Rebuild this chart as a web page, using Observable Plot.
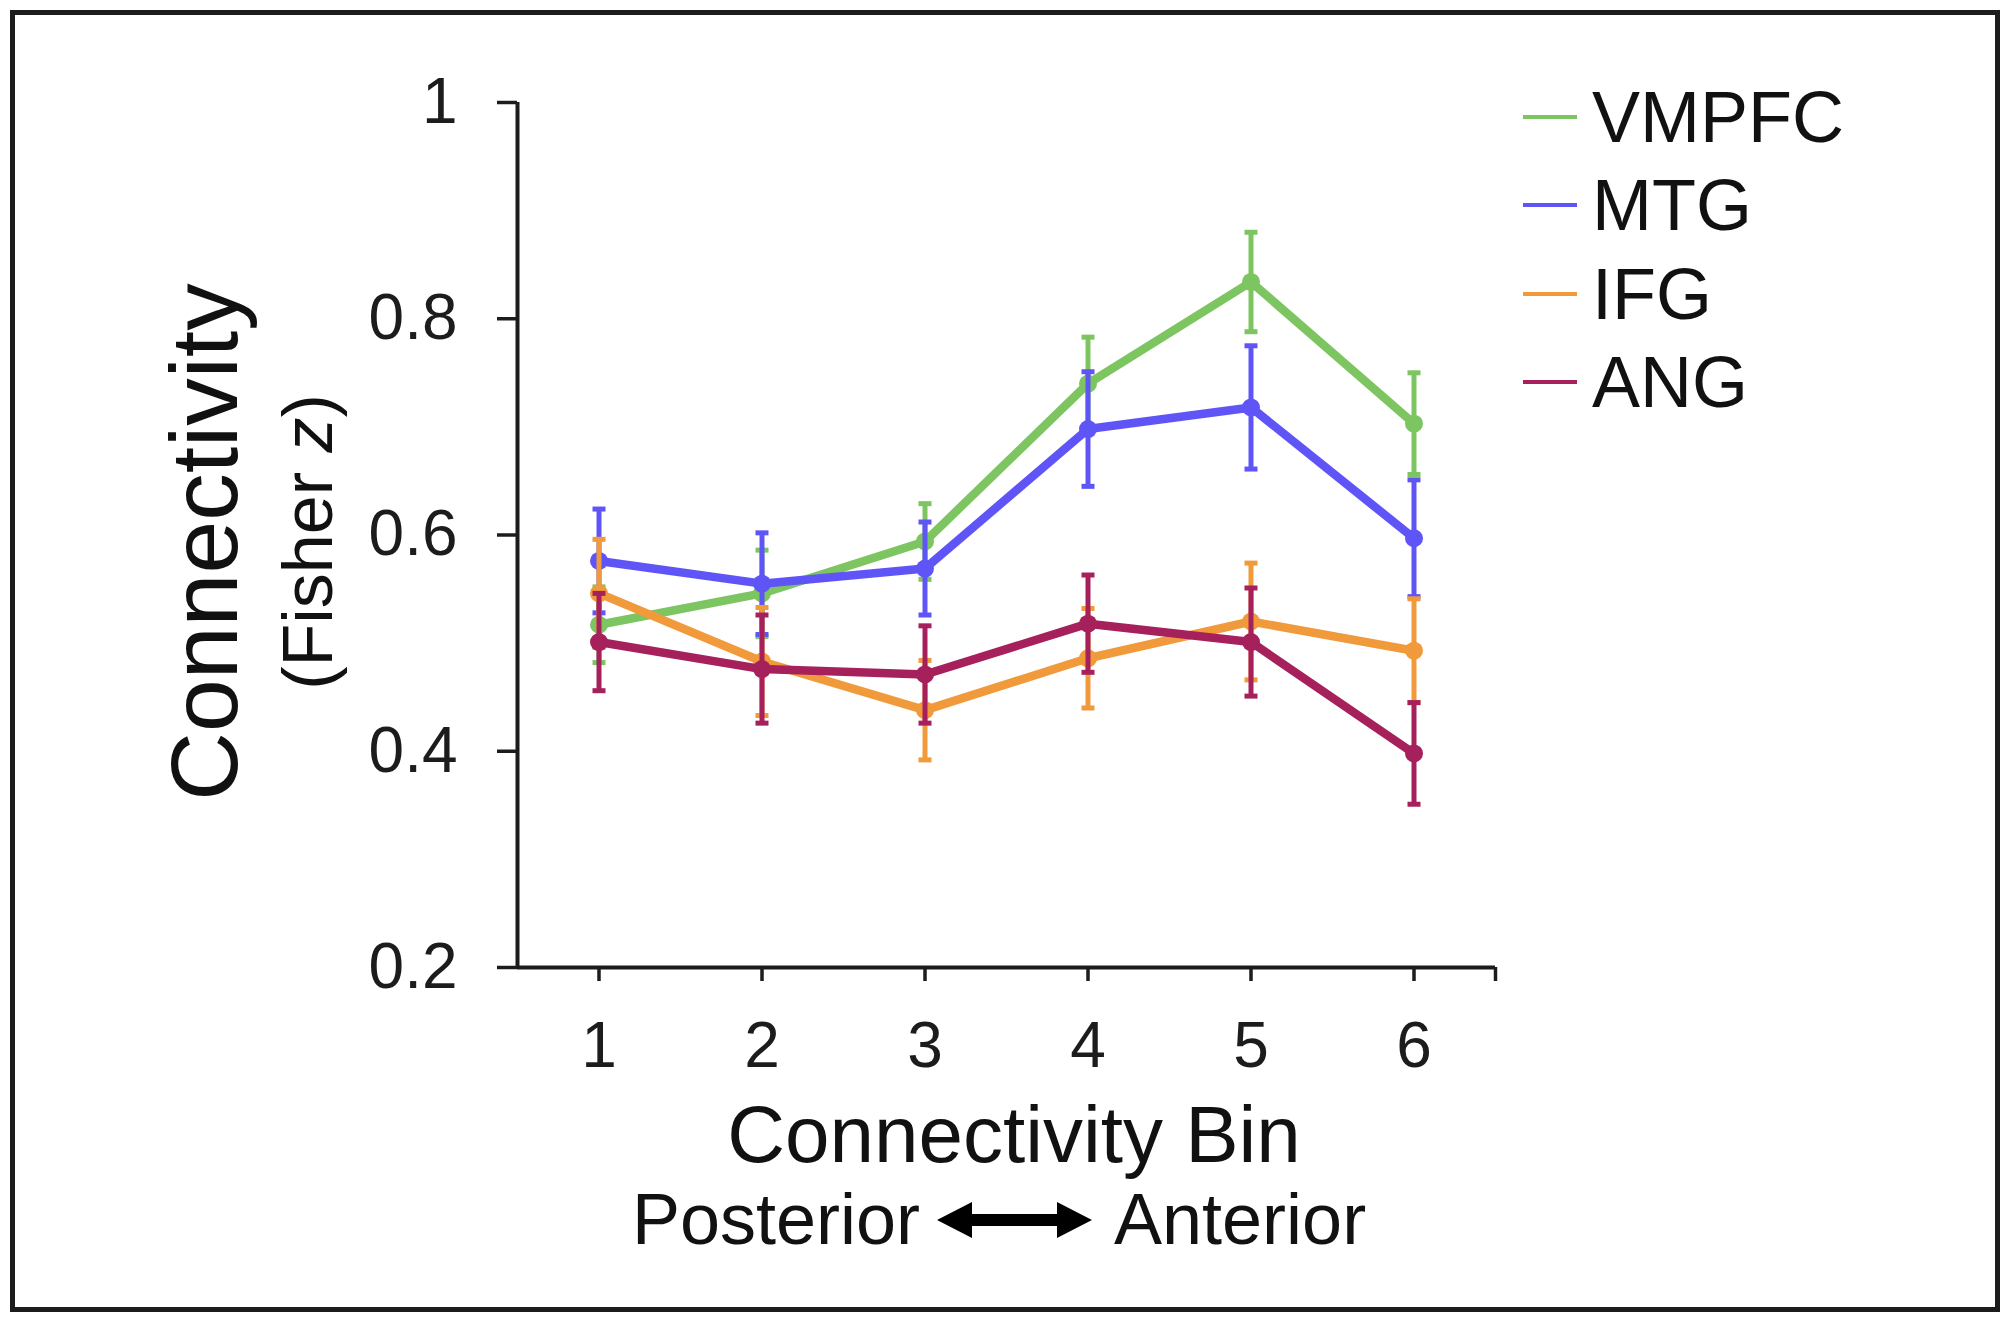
<!DOCTYPE html>
<html>
<head>
<meta charset="utf-8">
<script src="https://cdn.jsdelivr.net/npm/d3@7"></script>
<script src="https://cdn.jsdelivr.net/npm/@observablehq/plot@0.6"></script>
<style>
  html, body { margin: 0; padding: 0; background: #fff; }
  #wrap { position: relative; width: 2010px; height: 1323px; overflow: hidden; background: #fff;
          font-family: "Liberation Sans", Arial, sans-serif; color: #111; }
  #frame { position: absolute; left: 10px; top: 10px; width: 1990px; height: 1302px;
           box-sizing: border-box; border: 5px solid #1c1c1c; pointer-events: none; }
  #chart { position: absolute; left: 0; top: 0; }
  #overlay { position: absolute; left: 0; top: 0; pointer-events: none; }
  #legend { position: absolute; left: 1523px; top: 81px; }
  .item { display: flex; align-items: center; height: 72px; line-height: 72px; font-size: 72px; margin-bottom: 16.3px; }
  .sw { width: 54px; height: 4px; margin-right: 15px; }
</style>
</head>
<body>
<div id="wrap">
  <div id="chart"></div>
  <svg id="overlay" width="2010" height="1323" font-family="Liberation Sans, Arial, sans-serif" fill="#111">
    <text transform="translate(237,542) rotate(-90)" text-anchor="middle" font-size="95">Connectivity</text>
    <text transform="translate(332,542) rotate(-90)" text-anchor="middle" font-size="70">(Fisher <tspan font-style="italic">z</tspan>)</text>
    <text x="1014" y="1162" text-anchor="middle" font-size="80">Connectivity Bin</text>
    <text x="920" y="1244" text-anchor="end" font-size="72">Posterior</text>
    <text x="1114" y="1244" text-anchor="start" font-size="72">Anterior</text>
    <polygon fill="#000" points="937,1220 972,1202 972,1214 1057,1214 1057,1202 1092,1220 1057,1238 1057,1226 972,1226 972,1238"></polygon>
  </svg>
  <div id="legend"></div>
  <div id="frame"></div>
</div>
<script>
// ---- data ----
const bins = [1, 2, 3, 4, 5, 6];
const seriesNames = ["VMPFC", "MTG", "IFG", "ANG"];
const seriesColors = ["#7cc561", "#5f55f6", "#f09a3b", "#a6215b"];

const vmpfc    = [0.517, 0.546, 0.594, 0.740, 0.834, 0.703];
const vmpfcErr = [0.035, 0.040, 0.035, 0.043, 0.046, 0.047];
const mtg      = [0.576, 0.555, 0.569, 0.698, 0.718, 0.597];
const mtgErr   = [0.048, 0.047, 0.043, 0.053, 0.057, 0.054];
const ifg      = [0.546, 0.483, 0.438, 0.486, 0.520, 0.493];
const ifgErr   = [0.050, 0.050, 0.046, 0.046, 0.054, 0.048];
const ang      = [0.501, 0.476, 0.471, 0.518, 0.501, 0.398];
const angErr   = [0.045, 0.050, 0.045, 0.045, 0.050, 0.047];

const xTicks = [1, 2, 3, 4, 5, 6];
const yTicks = [0.2, 0.4, 0.6, 0.8, 1];

// ---- build table ----
const valuesBySeries = { VMPFC: [vmpfc, vmpfcErr], MTG: [mtg, mtgErr], IFG: [ifg, ifgErr], ANG: [ang, angErr] };
const rows = seriesNames.flatMap(s => bins.map((b, i) => {
  const v = valuesBySeries[s][0][i], e = valuesBySeries[s][1][i];
  return { series: s, bin: b, value: v, lo: v - e, hi: v + e };
}));

// horizontal cap symbol for error bars
const hbar = { draw(ctx, size) { const r = Math.sqrt(size / Math.PI); ctx.moveTo(-r, 0); ctx.lineTo(r, 0); } };

const seriesMarks = seriesNames.flatMap(s => {
  const d = rows.filter(r => r.series === s);
  return [
    Plot.ruleX(d, { x: "bin", y1: "lo", y2: "hi", stroke: "series", strokeWidth: 5 }),
    Plot.dot(d, { x: "bin", y: "lo", symbol: hbar, r: 6.5, stroke: "series", strokeWidth: 5, fill: "none" }),
    Plot.dot(d, { x: "bin", y: "hi", symbol: hbar, r: 6.5, stroke: "series", strokeWidth: 5, fill: "none" }),
    Plot.line(d, { x: "bin", y: "value", stroke: "series", strokeWidth: 8.5, strokeLinejoin: "round" }),
    Plot.dot(d, { x: "bin", y: "value", r: 9, fill: "series" })
  ];
});

const chart = Plot.plot({
  width: 2010,
  height: 1323,
  marginLeft: 517,
  marginRight: 515,
  marginTop: 102,
  marginBottom: 356,
  style: { fontFamily: "Liberation Sans, Arial, sans-serif", background: "transparent", color: "#1c1c1c", overflow: "visible" },
  x: { type: "linear", domain: [0.5, 6.5] },
  y: { type: "linear", domain: [0.2, 1] },
  color: { domain: seriesNames, range: seriesColors, legend: false },
  marks: [
    Plot.axisY({ ticks: yTicks, tickSize: 20, tickPadding: 40, fontSize: 64, label: null, tickFormat: d => String(d), strokeWidth: 3.5 }),
    Plot.axisX({ ticks: xTicks, tickSize: 14, tickPadding: 40, fontSize: 64, label: null, tickFormat: d => String(d), strokeWidth: 3.5 }),
    Plot.axisX({ ticks: [6.5], tickSize: 14, tickFormat: () => "", label: null, strokeWidth: 3.5 }),
    Plot.ruleY([0.2], { stroke: "#1c1c1c", strokeWidth: 4 }),
    Plot.ruleX([0.5], { stroke: "#1c1c1c", strokeWidth: 4 }),
    ...seriesMarks
  ]
});
document.getElementById("chart").appendChild(chart);

// ---- legend ----
const legend = document.getElementById("legend");
seriesNames.forEach((s, i) => {
  const item = document.createElement("div");
  item.className = "item";
  const sw = document.createElement("span");
  sw.className = "sw";
  sw.style.background = seriesColors[i];
  const label = document.createElement("span");
  label.textContent = s;
  item.appendChild(sw);
  item.appendChild(label);
  legend.appendChild(item);
});
</script>
</body>
</html>
